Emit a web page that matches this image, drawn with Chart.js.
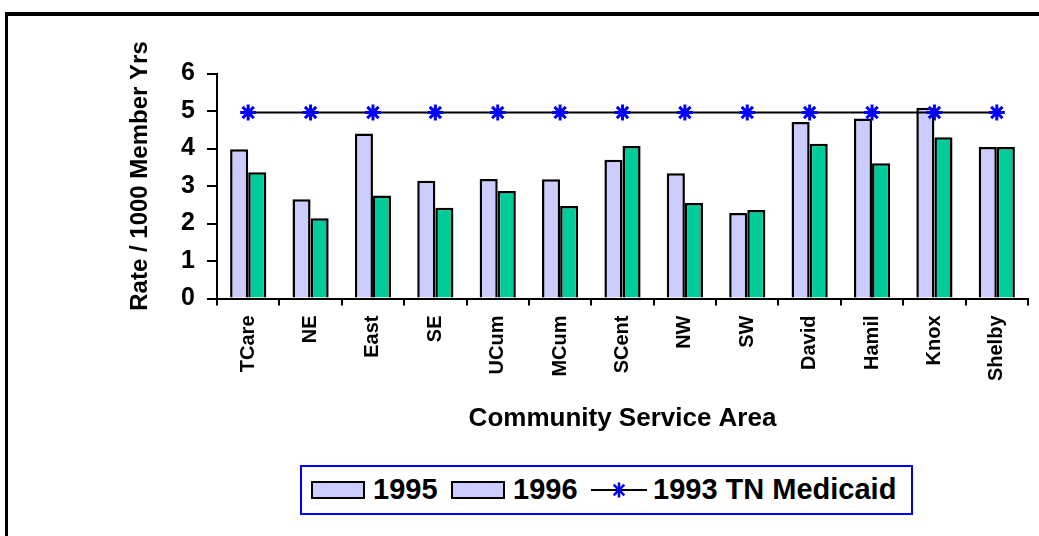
<!DOCTYPE html>
<html>
<head>
<meta charset="utf-8">
<title>Rate / 1000 Member Yrs by Community Service Area</title>
<script src="https://cdn.jsdelivr.net/npm/chart.js@4.4.1/dist/chart.umd.min.js"></script>
<style>
    html, body { margin: 0; padding: 0; background: #fff; overflow: hidden; }
    #frame {
        position: absolute; left: 5px; top: 12px; width: 1100px; height: 600px;
        border-top: 4px solid #000; border-left: 3px solid #000;
    }
    #wrap { position: absolute; left: 0; top: 0; width: 1039px; height: 536px; }
    #legend {
        position: absolute; left: 300px; top: 465px; width: 613px; height: 50px;
        box-sizing: border-box; border: 2px solid #0000ff; background: #fff;
        font: bold 29px "Liberation Sans", Arial, sans-serif; color: #000;
    }
    #legend .sw {
        position: absolute; top: 14px; width: 54px; height: 18px;
        box-sizing: border-box; border: 2px solid #000; background: #ccccff;
    }
    #legend .txt { position: absolute; top: 6px; line-height: 32px; white-space: nowrap; }
    #legend svg { position: absolute; top: 10px; }
</style>
</head>
<body>
<div id="frame"></div>
<div id="wrap"><canvas id="chart"></canvas></div>
<div id="legend">
    <span class="sw" style="left:9px"></span><span class="txt" style="left:71px">1995</span>
    <span class="sw" style="left:149px"></span><span class="txt" style="left:211px">1996</span>
    <svg style="left:289px" width="56" height="26" viewBox="0 0 56 26">
        <line x1="0" y1="13" x2="56" y2="13" stroke="#000" stroke-width="2"/>
        <g stroke="#0000ff" stroke-width="2.5">
            <line x1="28" y1="5.5" x2="28" y2="20.5"/>
            <line x1="22.7" y1="7.7" x2="33.3" y2="18.3"/>
            <line x1="33.3" y1="7.7" x2="22.7" y2="18.3"/>
        </g>
    </svg>
    <span class="txt" style="left:351px">1993 TN Medicaid</span>
</div>
<script>
// chart data
// -----------------------------------
var categories = ['TCare', 'NE', 'East', 'SE', 'UCum', 'MCum', 'SCent', 'NW', 'SW', 'David', 'Hamil', 'Knox', 'Shelby'];
var rates1995 = [3.98, 2.65, 4.40, 3.14, 3.19, 3.18, 3.70, 3.34, 2.28, 4.71, 4.80, 5.09, 4.04];
var rates1996 = [3.37, 2.14, 2.75, 2.42, 2.87, 2.47, 4.07, 2.55, 2.36, 4.13, 3.61, 4.30, 4.04];
var medicaid1993 = [4.96, 4.96, 4.96, 4.96, 4.96, 4.96, 4.96, 4.96, 4.96, 4.96, 4.96, 4.96, 4.96];
var yTicks = [0, 1, 2, 3, 4, 5, 6];

(function() {
    var font = '"Liberation Sans", Arial, sans-serif';

    var ctx = document.getElementById('chart').getContext('2d');
    var chart = new Chart(ctx, {
        data: {
            labels: categories,
            datasets: [{
                type: 'line',
                label: '1993 TN Medicaid',
                data: medicaid1993,
                order: 0,
                borderColor: '#000',
                borderWidth: 2,
                pointStyle: 'star',
                pointRadius: 8,
                pointBorderColor: '#0000ff',
                pointBackgroundColor: '#0000ff',
                pointBorderWidth: 3,
                fill: false,
                tension: 0
            }, {
                type: 'bar',
                label: '1995',
                data: rates1995,
                order: 1,
                backgroundColor: '#ccccff',
                borderColor: '#000',
                borderWidth: 2.5,
                barPercentage: 1,
                categoryPercentage: 0.58
            }, {
                type: 'bar',
                label: '1996',
                data: rates1996,
                order: 1,
                backgroundColor: '#00cc99',
                borderColor: '#000',
                borderWidth: 2.5,
                barPercentage: 1,
                categoryPercentage: 0.58
            }]
        },
        options: {
            responsive: true,
            maintainAspectRatio: false,
            animation: false,
            layout: { padding: { top: 73.5, right: 8, bottom: 0, left: 0 } },
            plugins: {
                legend: { display: false },
                tooltip: { enabled: false }
            },
            scales: {
                x: {
                    offset: true,
                    afterFit: function(scale) { scale.height = 237.5; },
                    border: { display: true, color: '#000', width: 2 },
                    grid: { offset: true, drawOnChartArea: false, color: '#000', lineWidth: 2, tickLength: 7 },
                    ticks: {
                        autoSkip: false, maxRotation: 90, minRotation: 90, padding: 10,
                        color: '#000', font: { family: font, size: 20, weight: 'bold' }
                    },
                    title: {
                        display: true, text: 'Community Service Area', color: '#000',
                        font: { family: font, size: 26, weight: 'bold' },
                        padding: { top: 0, bottom: 102 }
                    }
                },
                y: {
                    min: 0,
                    max: 6,
                    afterFit: function(scale) { scale.width = 217; },
                    afterBuildTicks: function(scale) {
                        scale.ticks = yTicks.map(function(v) { return { value: v }; });
                    },
                    border: { display: true, color: '#000', width: 2 },
                    grid: { drawOnChartArea: false, color: '#000', lineWidth: 2, tickLength: 10 },
                    ticks: {
                        padding: 12, color: '#000',
                        font: { family: font, size: 25, weight: 'bold' }
                    },
                    title: {
                        display: true, text: '   Rate / 1000 Member Yrs', color: '#000',
                        font: { family: font, size: 24, weight: 'bold' },
                        padding: { top: 126, bottom: 0 }
                    }
                }
            }
        }
    });
})();
</script>
</body>
</html>
